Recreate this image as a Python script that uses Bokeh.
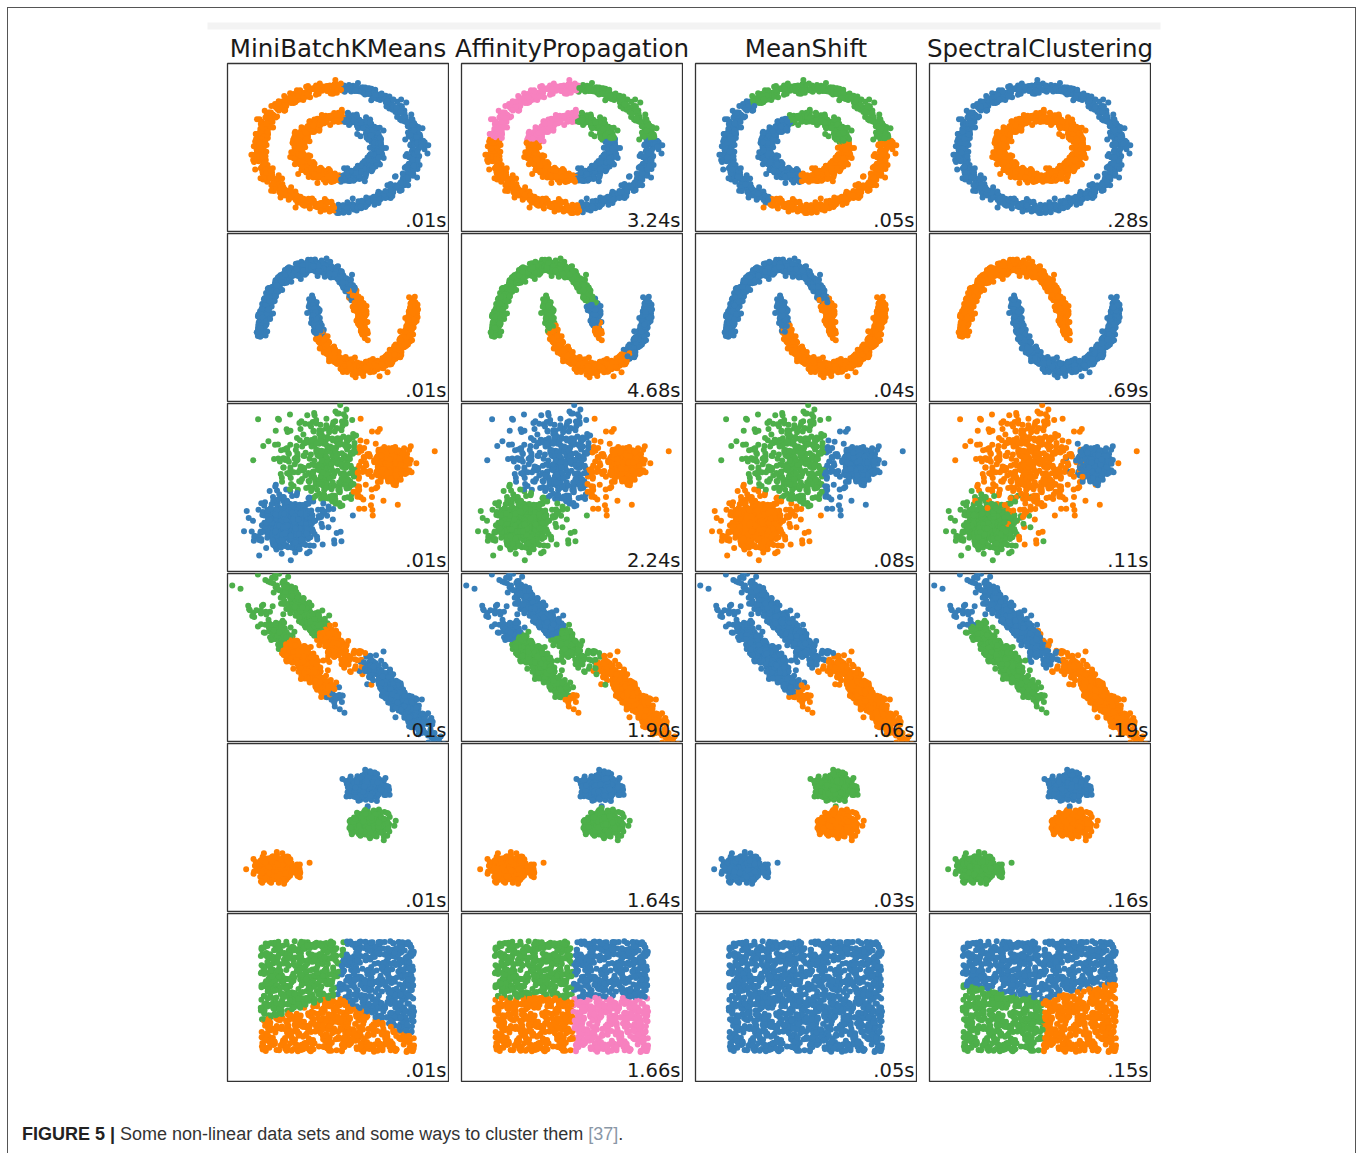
import numpy as np
from bokeh.plotting import figure
from bokeh.models import ColumnDataSource, Range1d, Label, Spacer, Div
from bokeh.layouts import column, row
from bokeh.embed import file_html
from bokeh.resources import INLINE
from bokeh.core.properties import value

# ---------------------------------------------------------------- data
ALGORITHMS = ["MiniBatchKMeans", "AffinityPropagation", "MeanShift", "SpectralClustering"]
TIMES = [
    [".01s", "3.24s", ".05s", ".28s"],
    [".01s", "4.68s", ".04s", ".69s"],
    [".01s", "2.24s", ".08s", ".11s"],
    [".01s", "1.90s", ".06s", ".19s"],
    [".01s", "1.64s", ".03s", ".16s"],
    [".01s", "1.66s", ".05s", ".15s"],
]
PALETTE = {"B": "#377eb8", "O": "#ff7f00", "G": "#4daf4a", "P": "#f781bf"}
LIMITS = (-2.5, 2.5)

N_TWO = 750      # points per component, rows 1-2
N_THREE = 500    # points per component, rows 3-5
N_UNIFORM = 1500

# row 1: noisy circles (outer, inner radius), split by angle (deg)
CIRCLE_RADII = [1.0, 0.5]
CIRCLE_NOISE = 0.05
CIRCLE_SEGMENTS = [
    [[(86, "B"), (268, "O"), (360, "B")], [(82, "B"), (273, "O"), (360, "B")]],
    [[(8.5, "B"), (85.5, "G"), (170, "P"), (275.5, "O"), (360, "B")],
     [(15.6, "B"), (84, "G"), (168, "P"), (276, "O"), (360, "B")]],
    [[(7, "O"), (132.5, "G"), (241.6, "B"), (360, "O")],
     [(12, "O"), (115, "G"), (262, "B"), (360, "O")]],
    [[(360, "B")], [(360, "O")]],
]

# row 2: noisy moons (upper, lower), split by moon parameter (deg)
MOON_NOISE = 0.05
MOON_SEGMENTS = [
    [[(36, "O"), (180, "B")], [(29, "B"), (180, "O")]],
    [[(8, "O"), (29, "B"), (180, "G")], [(24, "G"), (125, "O"), (180, "B")]],
    [[(30, "O"), (180, "B")], [(24, "B"), (180, "O")]],
    [[(180, "O")], [(180, "B")]],
]

# row 3: blobs of varied variance (lower-left, broad, tight)
VARIED_CENTERS = [(-1.15, -1.1), (-0.25, 0.6), (1.2, 0.68)]
VARIED_SIGMAS = [(0.30, 0.38), (0.62, 0.80), (0.16, 0.21)]
VARIED_LABELS = [
    {"voronoi": [(-1.1, -1.1, "B"), (-0.3, 0.6, "G"), (1.1, 0.5, "O")]},
    {"voronoi": [(-1.1, -1.1, "G"), (-0.3, 0.6, "B"), (1.05, 0.5, "O")]},
    {"voronoi": [(-1.1, -1.1, "O"), (-0.3, 0.6, "G"), (1.15, 0.5, "B")]},
    {"member": ["G", "O", "B"]},
]

# row 4: anisotropic blobs (three strips), split by position along strip
ANISO_CENTERS = [(-0.88, 0.03), (-0.56, 1.07), (1.29, -1.07)]
ANISO_AXIS = (0.41, -0.60)
ANISO_CROSS = (0.088, 0.102)
INF = float("inf")
ANISO_SEGMENTS = [
    [[(-0.69, "G"), (1.8, "O"), (INF, "B")], [(0.48, "G"), (INF, "O")], [(-1.74, "O"), (INF, "B")]],
    [[(-0.92, "B"), (1.95, "G"), (INF, "O")], [(0.6, "B"), (INF, "G")], [(-1.68, "G"), (INF, "O")]],
    [[(1.63, "B"), (INF, "O")], [(2.2, "B"), (INF, "O")], [(-1.84, "B"), (INF, "O")]],
    [[(-1.54, "B"), (INF, "G")], [(2.2, "B"), (INF, "O")], [(INF, "O")]],
]

# row 5: three isotropic blobs
BLOB_CENTERS = [(0.66, 1.21), (0.73, 0.12), (-1.41, -1.22)]
BLOB_SIGMA = (0.19, 0.16)
BLOB_LABELS = [["B", "G", "O"], ["B", "G", "O"], ["G", "O", "B"], ["B", "O", "G"]]

# row 6: no structure (uniform square)
UNIFORM_X = (-1.75, 1.72)
UNIFORM_Y = (-1.62, 1.68)
UNIFORM_LABELS = [
    [(-0.9, 0.75, "G"), (0.95, 0.45, "B"), (-0.1, -1.05, "O")],
    [(-0.85, 0.87, "G"), (0.89, 0.87, "B"), (-0.85, -0.87, "O"), (0.89, -0.87, "P")],
    [(0.0, 0.0, "B")],
    [(0.0, 0.85, "B"), (-0.42, -0.85, "G"), (0.56, -0.85, "O")],
]

CAPTION_BOLD = "FIGURE 5 |"
CAPTION_TEXT = "Some non-linear data sets and some ways to cluster them"
CAPTION_REF = "[37]"

# ---------------------------------------------------------------- layout constants
OFFSET = 7                 # page offset of the outer frame
ORIGIN = OFFSET + 1        # inside the 1px frame
PAGE_W = 1347
HEADER_H = 54
GRID_LEFT = 217
PANEL_W, PANEL_H, COL_GAP = 223, 170, 11
DOT = 6
TITLE_SIZE = 24.5
TIME_SIZE = 19.5

rng = np.random.default_rng(170)


def seg_colors(param, segs):
    bounds = np.array([b for b, _ in segs], dtype=float)
    cols = np.array([PALETTE[c] for _, c in segs])
    idx = np.clip(np.searchsorted(bounds, param, side="right"), 0, len(segs) - 1)
    return cols[idx]


def voronoi_colors(x, y, centers):
    c = np.array([[cx, cy] for cx, cy, _ in centers])
    d = (x[:, None] - c[None, :, 0]) ** 2 + (y[:, None] - c[None, :, 1]) ** 2
    cols = np.array([PALETTE[k] for _, _, k in centers])
    return cols[np.argmin(d, axis=1)]


def standardize(x, y):
    return (x - x.mean()) / x.std(), (y - y.mean()) / y.std()


datasets = []  # per row: (x, y, [colours per algorithm])

# row 1
xs, ys, ring = [], [], []
for i, r in enumerate(CIRCLE_RADII):
    th = np.linspace(0, 2 * np.pi, N_TWO, endpoint=False)
    xs.append(r * np.cos(th) + rng.normal(0, CIRCLE_NOISE, N_TWO))
    ys.append(r * np.sin(th) + rng.normal(0, CIRCLE_NOISE, N_TWO))
    ring.append(np.full(N_TWO, i))
x, y = standardize(np.concatenate(xs), np.concatenate(ys))
ring = np.concatenate(ring)
ang = np.degrees(np.arctan2(y, x)) % 360
cols = []
for segs in CIRCLE_SEGMENTS:
    c = np.empty(len(x), dtype=object)
    for i in range(2):
        m = ring == i
        c[m] = seg_colors(ang[m], segs[i])
    cols.append(c)
datasets.append((x, y, cols))

# row 2
t = np.linspace(0, np.pi, N_TWO)
x = np.concatenate([np.cos(t), 1 - np.cos(t)]) + rng.normal(0, MOON_NOISE, 2 * N_TWO)
y = np.concatenate([np.sin(t), 1 - np.sin(t) - 0.5]) + rng.normal(0, MOON_NOISE, 2 * N_TWO)
x, y = standardize(x, y)
tdeg = np.degrees(np.concatenate([t, t]))
moon = np.repeat([0, 1], N_TWO)
cols = []
for segs in MOON_SEGMENTS:
    c = np.empty(len(x), dtype=object)
    for i in range(2):
        m = moon == i
        c[m] = seg_colors(tdeg[m], segs[i])
    cols.append(c)
datasets.append((x, y, cols))

# row 3
x = np.concatenate([rng.normal(cx, sx, N_THREE) for (cx, _), (sx, _) in zip(VARIED_CENTERS, VARIED_SIGMAS)])
y = np.concatenate([rng.normal(cy, sy, N_THREE) for (_, cy), (_, sy) in zip(VARIED_CENTERS, VARIED_SIGMAS)])
member = np.repeat(np.arange(3), N_THREE)
cols = []
for spec in VARIED_LABELS:
    if "voronoi" in spec:
        cols.append(voronoi_colors(x, y, spec["voronoi"]))
    else:
        cols.append(np.array([PALETTE[k] for k in spec["member"]])[member])
datasets.append((x, y, cols))

# row 4
u = rng.normal(0, 1, 3 * N_THREE)
v = rng.normal(0, 1, 3 * N_THREE)
member = np.repeat(np.arange(3), N_THREE)
cen = np.array(ANISO_CENTERS)[member]
x = cen[:, 0] + u * ANISO_AXIS[0] + v * ANISO_CROSS[0]
y = cen[:, 1] + u * ANISO_AXIS[1] + v * ANISO_CROSS[1]
cols = []
for segs in ANISO_SEGMENTS:
    c = np.empty(len(x), dtype=object)
    for i in range(3):
        m = member == i
        c[m] = seg_colors(u[m], segs[i])
    cols.append(c)
datasets.append((x, y, cols))

# row 5
member = np.repeat(np.arange(3), N_THREE)
cen = np.array(BLOB_CENTERS)[member]
x = cen[:, 0] + rng.normal(0, BLOB_SIGMA[0], 3 * N_THREE)
y = cen[:, 1] + rng.normal(0, BLOB_SIGMA[1], 3 * N_THREE)
cols = [np.array([PALETTE[k] for k in lab])[member] for lab in BLOB_LABELS]
datasets.append((x, y, cols))

# row 6
x = rng.uniform(*UNIFORM_X, N_UNIFORM)
y = rng.uniform(*UNIFORM_Y, N_UNIFORM)
cols = [voronoi_colors(x, y, cen) for cen in UNIFORM_LABELS]
datasets.append((x, y, cols))


# ---------------------------------------------------------------- panels
def make_panel(x, y, c, time_text):
    p = figure(width=PANEL_W, height=PANEL_H,
               x_range=Range1d(*LIMITS), y_range=Range1d(*LIMITS),
               toolbar_location=None, output_backend="svg", min_border=1,
               x_axis_location=None, y_axis_location=None,
               outline_line_color="#333333", outline_line_width=1.3,
               background_fill_color="white", border_fill_color="white")
    p.grid.visible = False
    order = rng.permutation(len(x))
    src = ColumnDataSource(dict(x=x[order], y=y[order], c=list(c[order])))
    p.scatter(x="x", y="y", fill_color="c", line_color=None, size=DOT, source=src)
    p.add_layout(Label(x=LIMITS[1], y=LIMITS[0], text=time_text,
                       text_align="right", text_baseline="middle",
                       x_offset=-2, y_offset=4.5 + 0.35 * TIME_SIZE,
                       text_font="DejaVu Sans", text_font_size=f"{TIME_SIZE}px",
                       text_color="#1a1a1a"))
    return p


grid_rows = []
for r, (x, y, cols) in enumerate(datasets):
    figs = [make_panel(x, y, cols[k], TIMES[r][k]) for k in range(4)]
    grid_rows.append(row(*figs, spacing=COL_GAP))
grid = column(*grid_rows, spacing=0)

# ---------------------------------------------------------------- header (titles)
hdr = figure(width=PAGE_W, height=HEADER_H,
             x_range=Range1d(ORIGIN, ORIGIN + PAGE_W), y_range=Range1d(ORIGIN + HEADER_H, ORIGIN),
             toolbar_location=None, output_backend="svg", min_border=0,
             x_axis_location=None, y_axis_location=None, outline_line_color=None)
hdr.grid.visible = False
hdr.quad(left=[207], right=[1160], top=[22], bottom=[29], fill_color="#f3f3f3", line_color=None)
left0 = ORIGIN + GRID_LEFT + 1
centers = [left0 + k * (PANEL_W + COL_GAP) + PANEL_W / 2 for k in range(4)]
title_baseline = 56.5
hdr.text(x=centers, y=[title_baseline - 0.35 * TITLE_SIZE] * 4, text=ALGORITHMS,
         text_align="center", text_baseline="middle", text_font=value("DejaVu Sans"),
         text_font_size=f"{TITLE_SIZE}px", text_color="#1a1a1a")

# ---------------------------------------------------------------- caption
caption = Div(
    width=900, height=30,
    text=(f'<span style="font-weight:bold;color:#222">{CAPTION_BOLD}</span> '
          f'{CAPTION_TEXT} <span style="color:#8a97a6">{CAPTION_REF}</span>.'),
    styles={"font-family": "'Liberation Sans Narrow', 'Arial Narrow', 'Liberation Sans', sans-serif",
            "font-size": "18px", "line-height": "22px", "color": "#333"},
)

frame = column(
    hdr,
    row(Spacer(width=GRID_LEFT + 1, height=6 * PANEL_H), grid),
    Spacer(width=10, height=36),
    row(Spacer(width=9, height=30), caption),
    styles={"border-top": "1px solid #555", "border-left": "1px solid #555",
            "border-right": "1px solid #555"},
)

root = column(Spacer(width=10, height=OFFSET), row(Spacer(width=OFFSET, height=10), frame))

open("out.html", "w").write(file_html(root, INLINE))
